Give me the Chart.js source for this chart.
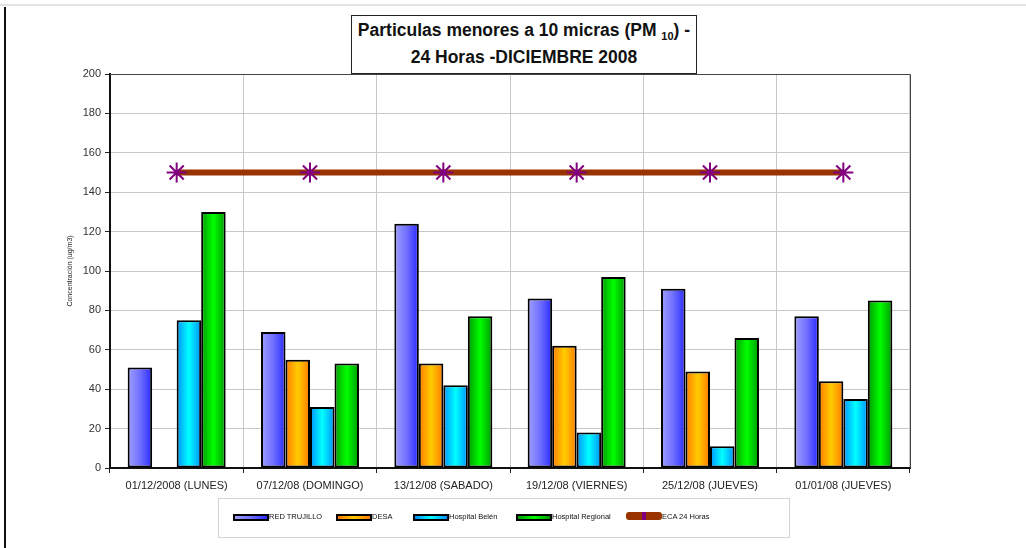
<!DOCTYPE html>
<html>
<head>
<meta charset="utf-8">
<script src="https://cdn.jsdelivr.net/npm/chart.js@4.4.1/dist/chart.umd.min.js"></script>
<style>
  html, body { margin: 0; padding: 0; background: #fff; }
  #wrap { position: relative; width: 1026px; height: 548px; overflow: hidden;
          font-family: "Liberation Sans", Arial, sans-serif; }
  #chart { position: absolute; left: 0; top: 0; }
  .topline { position: absolute; left: 0; top: 4px; width: 1026px; height: 2px; background: #e2e2e2; }
  .leftline { position: absolute; left: 4px; top: 7px; width: 2px; height: 541px; background: #111; }
  #title { position: absolute; left: 351px; top: 15px; width: 346px; height: 59px;
           border: 1px solid #222; background: #fff; text-align: center;
           font-weight: bold; font-size: 17.5px; line-height: 27px; color: #111; padding-top: 1px;
           box-sizing: border-box; }
  #title sub { font-size: 11px; vertical-align: -4px; line-height: 0; }
  #legend { position: absolute; left: 218px; top: 498px; width: 572px; height: 40px;
            border: 1px solid #d4d4d4; box-sizing: border-box; font-size: 7.5px; color: #111; }
  .item { position: absolute; top: 14px; height: 10px; white-space: nowrap; }
  .sw { position: absolute; top: 1px; left: 0; width: 32px; height: 3px; border: 2px solid #000; }
  .lbl { position: absolute; left: 36px; top: -1px; }
</style>
</head>
<body>
<div id="wrap">
  <div class="topline"></div>
  <div class="leftline"></div>
  <canvas id="chart" width="1026" height="548"></canvas>
  <div id="title">Particulas menores a 10 micras (PM <sub>10</sub>) -<br>24 Horas -DICIEMBRE 2008</div>
  <div id="legend"></div>
</div>
<script>
// categories and series
const categories = ['01/12/2008 (LUNES)', '07/12/08 (DOMINGO)', '13/12/08 (SABADO)',
                    '19/12/08 (VIERNES)', '25/12/08 (JUEVES)', '01/01/08 (JUEVES)'];
const redTrujillo = [51, 69, 124, 86, 91, 77];
const desa = [null, 55, 53, 62, 49, 44];
const hospitalBelen = [75, 31, 42, 18, 11, 35];
const hospitalRegional = [130, 53, 77, 97, 66, 85];
const eca24Horas = [150, 150, 150, 150, 150, 150];
const yTicks = [0, 20, 40, 60, 80, 100, 120, 140, 160, 180, 200];

// horizontal gradient stops for each bar series
const gradients = {
  red:  ['#a0a0ff', '#7070ff', '#2a2aff'],
  desa: ['#ff7a00', '#ffcc00', '#ff7a00'],
  belen:['#0090ff', '#00ffff', '#0090ff'],
  reg:  ['#009900', '#00ff00', '#009900'],
};

function barFill(key) {
  const stops = gradients[key];
  return (ctx) => {
    const el = ctx.element;
    if (!el || !isFinite(el.x) || !isFinite(el.width)) return stops[1];
    const g = ctx.chart.ctx.createLinearGradient(el.x - el.width / 2, 0, el.x + el.width / 2, 0);
    g.addColorStop(0, stops[0]);
    g.addColorStop(0.5, stops[1]);
    g.addColorStop(1, stops[2]);
    return g;
  };
}

function barSet(label, data, key) {
  return {
    type: 'bar', label, data, order: 2,
    backgroundColor: barFill(key),
    borderColor: '#000', borderWidth: 2, borderSkipped: false,
    categoryPercentage: 0.735, barPercentage: 1,
  };
}

/* dark frame on the top and right of the plot area */
const frame = {
  id: 'frame',
  afterDraw(chart) {
    const a = chart.chartArea, c = chart.ctx;
    c.save();
    c.strokeStyle = '#444';
    c.lineWidth = 1;
    c.beginPath();
    c.moveTo(a.left, a.top + 0.5);
    c.lineTo(a.right + 0.5, a.top + 0.5);
    c.lineTo(a.right + 0.5, a.bottom);
    c.stroke();
    c.restore();
  },
};

const chart = new Chart(document.getElementById('chart'), {
  data: {
    labels: categories,
    datasets: [
      barSet('RED TRUJILLO', redTrujillo, 'red'),
      barSet('DESA', desa, 'desa'),
      barSet('Hospital Belén', hospitalBelen, 'belen'),
      barSet('Hospital Regional', hospitalRegional, 'reg'),
      {
        type: 'line', label: 'ECA 24 Horas', data: eca24Horas, order: 1,
        borderColor: '#993300', borderWidth: 6,
        pointStyle: 'star', pointRadius: 10, pointBorderColor: '#800080',
        pointBackgroundColor: '#800080', pointBorderWidth: 2,
      },
    ],
  },
  options: {
    responsive: false,
    animation: false,
    layout: { padding: { left: 62, top: 74, right: 116, bottom: 50 } },
    plugins: { legend: { display: false }, tooltip: { enabled: false } },
    scales: {
      x: {
        offset: true,
        grid: { offset: true, color: '#c8c8c8', lineWidth: 1, tickColor: '#222', tickLength: 5 },
        border: { color: '#111', width: 2 },
        ticks: { color: '#222', font: { family: 'Liberation Sans', size: 11 }, padding: 6, maxRotation: 0 },
        afterFit: (s) => { s.height = 30; },
      },
      y: {
        min: 0, max: 200,
        afterBuildTicks: (s) => { s.ticks = yTicks.map((v) => ({ value: v })); },
        grid: { color: '#c8c8c8', lineWidth: 1, tickColor: '#222', tickLength: 5 },
        border: { color: '#111', width: 2 },
        ticks: { color: '#333', font: { family: 'Liberation Sans', size: 11 }, padding: 4 },
        title: { display: true, text: 'Concentración (ug/m3)', color: '#222',
                 font: { family: 'Liberation Sans', size: 7 }, padding: 4 },
        afterFit: (s) => { s.width = 48; },
      },
    },
  },
  plugins: [frame],
});
// second pass so the gradients see the laid-out bar positions
chart.update('none');

/* legend box, built from the dataset labels */
const legendEl = document.getElementById('legend');
const legendX = [14, 117, 194, 297, 407];
chart.data.datasets.forEach((ds, i) => {
  const item = document.createElement('div');
  item.className = 'item';
  item.style.left = legendX[i] + 'px';
  const sw = document.createElement('div');
  sw.className = 'sw';
  if (ds.type === 'bar') {
    const key = ['red', 'desa', 'belen', 'reg'][i];
    const st = gradients[key];
    sw.style.background = `linear-gradient(to right, ${st[0]}, ${st[1]}, ${st[2]})`;
  } else {
    sw.style.border = 'none';
    sw.style.top = '-1px';
    sw.style.height = '8px';
    sw.style.width = '36px';
    sw.style.borderRadius = '3px';
    sw.style.background = 'linear-gradient(to right, #993300 44%, #800080 44%, #800080 56%, #993300 56%)';
  }
  const lbl = document.createElement('span');
  lbl.className = 'lbl';
  lbl.textContent = ds.label;
  item.appendChild(sw);
  item.appendChild(lbl);
  legendEl.appendChild(item);
});
</script>
</body>
</html>
